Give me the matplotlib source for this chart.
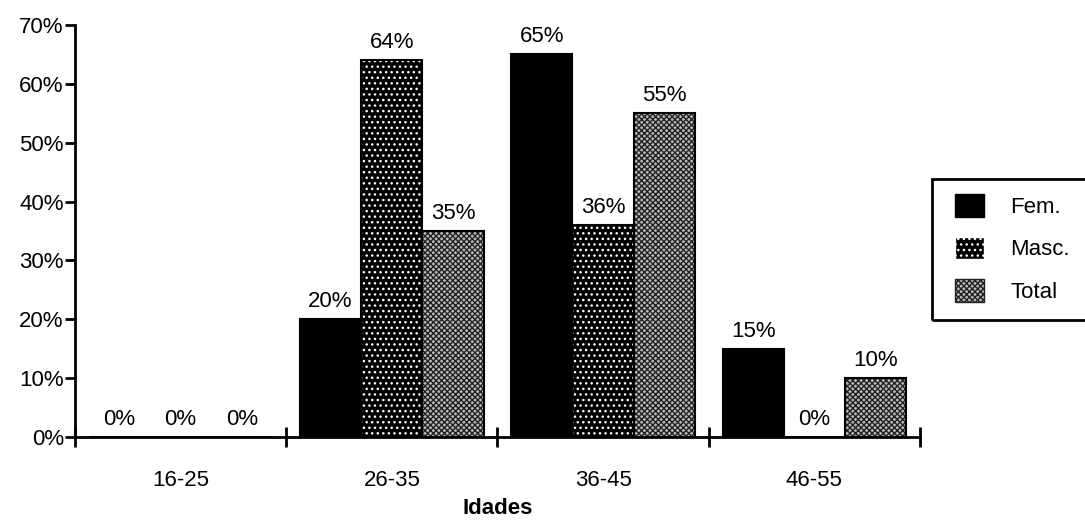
import numpy as np
import matplotlib
matplotlib.use("Agg")
import matplotlib.pyplot as plt
from matplotlib.patches import Patch, Rectangle

plt.rcParams['font.family'] = ['Liberation Sans', 'DejaVu Sans']
plt.rcParams['hatch.linewidth'] = 1.0

# data
idades = ["16-25", "26-35", "36-45", "46-55"]
fem = [0, 20, 65, 15]
masc = [0, 64, 36, 0]
total = [0, 35, 55, 10]
yticks = [0, 10, 20, 30, 40, 50, 60, 70]

fs = 16

fig = plt.figure(figsize=(10.85, 5.22), dpi=100)
ax = fig.add_axes([0.069, 0.163, 0.779, 0.789])

x = np.arange(len(idades)) + 0.5
w = 0.29

# Fem: solid black
ax.bar(x - w, fem, w, color="black", edgecolor="black", linewidth=1.5)
# Masc: black with white dots
ax.bar(x, masc, w, facecolor="black", edgecolor="white", hatch="...", linewidth=0)
ax.bar(x, masc, w, facecolor="none", edgecolor="black", linewidth=1.5)
# Total: fine crosshatch
ax.bar(x + w, total, w, facecolor="#bbbbbb", edgecolor="#222222", hatch="xxxxxx", linewidth=0)
ax.bar(x + w, total, w, facecolor="none", edgecolor="black", linewidth=1.5)

for off, vals in [(-w, fem), (0, masc), (w, total)]:
    for xi, v in zip(x + off, vals):
        ax.text(xi, v + 1.2, "%d%%" % v, ha="center", va="bottom", fontsize=fs)

ax.set_xlim(0, 4)
ax.set_ylim(0, 70)
ax.set_yticks(yticks)
ax.set_yticklabels(["%d%%" % t for t in yticks], fontsize=fs)
ax.set_xticks(x)
ax.set_xticklabels(idades, fontsize=fs)
ax.tick_params(axis="x", length=0, pad=24)
ax.set_xticks(np.arange(5), minor=True)
ax.tick_params(axis="x", which="minor", direction="inout", length=14, width=2)
ax.tick_params(axis="y", direction="out", length=7, width=2, pad=1)
ax.set_xlabel("Idades", fontsize=fs, fontweight="bold", labelpad=5)

for s in ["top", "right"]:
    ax.spines[s].set_visible(False)
for s in ["left", "bottom"]:
    ax.spines[s].set_linewidth(2)

handles = [
    Patch(facecolor="black", edgecolor="black", label="Fem."),
    Patch(facecolor="black", edgecolor="white", hatch="...", label="Masc."),
    Patch(facecolor="#bbbbbb", edgecolor="#222222", hatch="xxxxxx", label="Total"),
]
leg = fig.legend(handles=handles, loc="upper left", bbox_to_anchor=(0.870, 0.650),
                 frameon=False, fontsize=fs, handlelength=1.3,
                 handleheight=1.2, handletextpad=1.2, labelspacing=0.85,
                 borderpad=0.5, borderaxespad=0)
# legend box runs off the right edge, as in the original
fig.patches.append(Rectangle((932 / 1085, 1 - 320 / 522), 0.2, 141 / 522,
                             transform=fig.transFigure, fill=False,
                             edgecolor="black", linewidth=2))

fig.savefig("out.png", dpi=100)
